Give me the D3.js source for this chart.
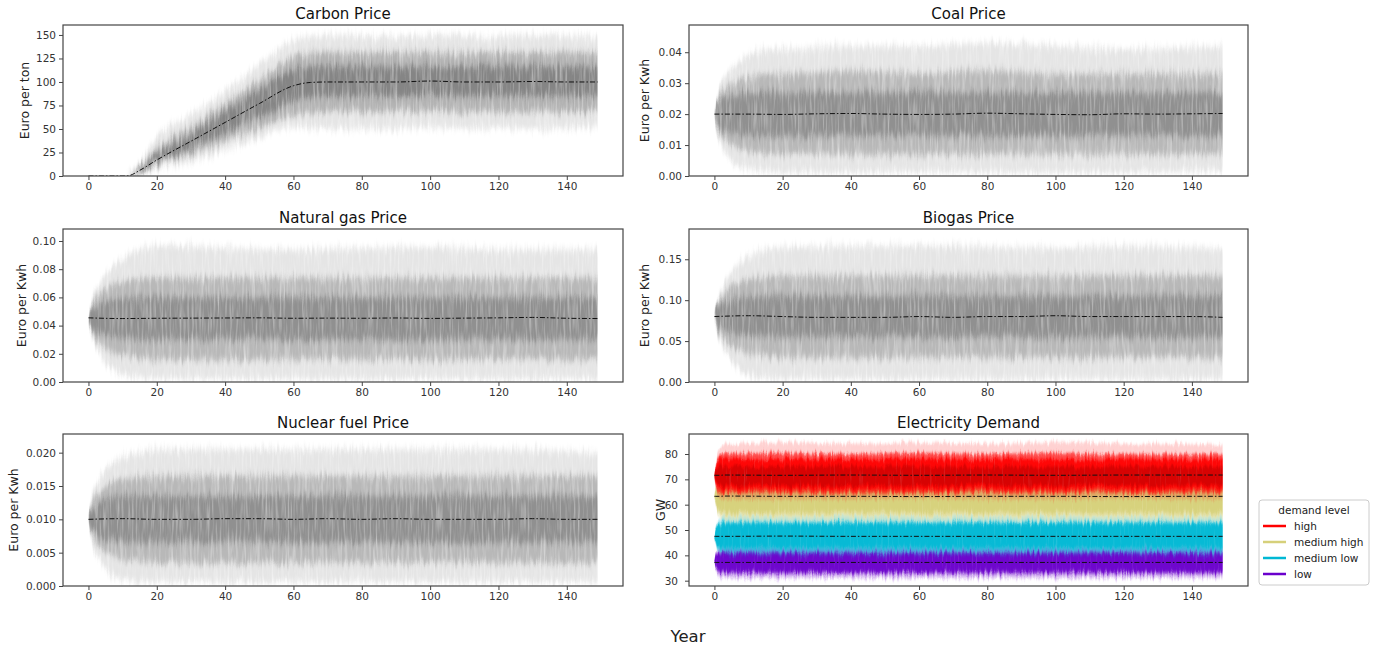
<!DOCTYPE html>
<html><head><meta charset="utf-8">
<script src="https://cdn.jsdelivr.net/npm/d3@7"></script>
<style>body{margin:0;background:#fff}svg{font-family:"DejaVu Sans",sans-serif}</style>
</head><body><svg id="c" width="1378" height="650"></svg>
<script>
// ---------- data ----------
const xTicks = [0,20,40,60,80,100,120,140];
const xDomain = [-7.45,156.45];

const envYears  = [0,0.4,1,2,3,5,7,10,15,20,40,60,80,100,120,149];
const meanYears = [0,10,20,30,40,50,60,70,80,90,100,110,120,130,140,149];

// Carbon price (Euro per ton)
const carbonYears = [0,11,12,15,20,30,40,50,60,65,70,80,90,100,110,120,130,140,149];
const carbonMean  = [0,0,0.5,6,17,37,57,77,96,99.5,100,100,100,101,100,100,100.5,100,100];
const carbonOuter = [[0,0],[0,0],[0,1.5],[2,14],[7,42],[15,65],[28,90],[40,118],[52,145],[51,148],[50,150],[51,149],[50,148],[52,150],[50,149],[51,148],[50,150],[51,149],[52,147]];
const carbonMid   = [[0,0],[0,0],[0,1],[3,10],[11,30],[23,52],[37,77],[51,102],[65,127],[67,131],[68,132],[68,131],[68,132],[69,132],[68,131],[68,132],[68,131],[68,132],[69,131]];
const carbonCore  = [[0,0],[0,0],[0.2,0.8],[4,8],[14,23],[29,45],[46,69],[63,92],[80,113],[84,116],[85,116],[85,117],[85,116],[86,117],[85,116],[85,117],[85,116],[85,116],[86,116]];
const carbonYTicks = [0,25,50,75,100,125,150];

// Coal price (Euro per Kwh)
const coalMean  = [0.0200,0.0200,0.0199,0.0201,0.0202,0.0200,0.0199,0.0200,0.0203,0.0201,0.0199,0.0198,0.0201,0.0200,0.0201,0.0202];
const coalOuter = [[0.020,0.020],[0.016,0.024],[0.013,0.027],[0.010,0.030],[0.008,0.032],[0.005,0.035],[0.003,0.037],[0.002,0.039],[0.0012,0.041],[0.001,0.041],[0.001,0.042],[0.0012,0.042],[0.001,0.043],[0.001,0.042],[0.001,0.041],[0.0015,0.042]];
const coalMid   = [[0.020,0.020],[0.017,0.023],[0.015,0.025],[0.013,0.027],[0.012,0.028],[0.010,0.030],[0.009,0.031],[0.008,0.032],[0.007,0.033],[0.007,0.033],[0.007,0.034],[0.007,0.033],[0.007,0.034],[0.007,0.033],[0.007,0.033],[0.007,0.033]];
const coalCore  = [[0.020,0.020],[0.0175,0.0225],[0.016,0.024],[0.015,0.025],[0.0145,0.0255],[0.014,0.026],[0.0135,0.0265],[0.013,0.027],[0.013,0.027],[0.013,0.027],[0.013,0.027],[0.013,0.027],[0.013,0.027],[0.013,0.027],[0.013,0.027],[0.013,0.027]];
const coalYTicks = [0,0.01,0.02,0.03,0.04];

// Natural gas price
const gasMean  = [0.0455,0.0450,0.0452,0.0453,0.0454,0.0455,0.0452,0.0453,0.0452,0.0454,0.0451,0.0453,0.0455,0.0458,0.0452,0.0450];
const gasOuter = [[0.045,0.045],[0.038,0.052],[0.032,0.058],[0.026,0.064],[0.021,0.069],[0.014,0.076],[0.009,0.082],[0.005,0.088],[0.003,0.094],[0.002,0.097],[0.002,0.095],[0.002,0.094],[0.002,0.095],[0.002,0.096],[0.002,0.094],[0.002,0.094]];
const gasMid   = [[0.045,0.045],[0.039,0.051],[0.035,0.055],[0.031,0.059],[0.028,0.062],[0.024,0.066],[0.021,0.069],[0.019,0.071],[0.017,0.073],[0.016,0.074],[0.016,0.074],[0.016,0.074],[0.016,0.074],[0.016,0.074],[0.016,0.074],[0.016,0.074]];
const gasCore  = [[0.045,0.045],[0.040,0.050],[0.038,0.052],[0.036,0.054],[0.035,0.055],[0.033,0.057],[0.032,0.058],[0.031,0.059],[0.030,0.060],[0.030,0.060],[0.030,0.060],[0.030,0.060],[0.030,0.060],[0.030,0.060],[0.030,0.060],[0.030,0.060]];
const gasYTicks = [0,0.02,0.04,0.06,0.08,0.10];

// Biogas price
const bioMean  = [0.080,0.081,0.080,0.079,0.079,0.079,0.080,0.079,0.080,0.080,0.081,0.080,0.080,0.080,0.080,0.079];
const bioOuter = [[0.080,0.080],[0.068,0.092],[0.058,0.102],[0.047,0.113],[0.038,0.122],[0.026,0.134],[0.016,0.145],[0.008,0.154],[0.004,0.162],[0.003,0.165],[0.003,0.166],[0.003,0.167],[0.003,0.165],[0.003,0.164],[0.003,0.166],[0.003,0.163]];
const bioMid   = [[0.080,0.080],[0.070,0.090],[0.063,0.097],[0.056,0.104],[0.051,0.109],[0.044,0.116],[0.039,0.121],[0.035,0.125],[0.032,0.128],[0.030,0.130],[0.030,0.130],[0.030,0.130],[0.030,0.130],[0.030,0.130],[0.030,0.130],[0.030,0.130]];
const bioCore  = [[0.080,0.080],[0.072,0.088],[0.068,0.092],[0.065,0.095],[0.063,0.097],[0.060,0.100],[0.058,0.102],[0.056,0.104],[0.055,0.105],[0.055,0.105],[0.055,0.105],[0.055,0.105],[0.055,0.105],[0.055,0.105],[0.055,0.105],[0.055,0.105]];
const bioYTicks = [0,0.05,0.10,0.15];

// Nuclear fuel price
const nucMean  = [0.0100,0.0101,0.0100,0.0100,0.0101,0.0101,0.0100,0.0101,0.0100,0.0101,0.0100,0.0100,0.0100,0.0101,0.0100,0.0100];
const nucOuter = [[0.010,0.010],[0.008,0.012],[0.0065,0.0135],[0.005,0.015],[0.004,0.016],[0.0025,0.0175],[0.0015,0.0185],[0.001,0.0195],[0.0007,0.020],[0.0006,0.0205],[0.0006,0.0205],[0.0006,0.0205],[0.0006,0.0205],[0.0006,0.0205],[0.0006,0.0205],[0.0006,0.020]];
const nucMid   = [[0.010,0.010],[0.0085,0.0115],[0.0075,0.0125],[0.0065,0.0135],[0.006,0.014],[0.005,0.015],[0.0045,0.0155],[0.004,0.016],[0.0037,0.0163],[0.0035,0.0165],[0.0035,0.0165],[0.0035,0.0165],[0.0035,0.0165],[0.0035,0.0165],[0.0035,0.0165],[0.0035,0.0165]];
const nucCore  = [[0.010,0.010],[0.009,0.011],[0.0083,0.0117],[0.008,0.012],[0.0075,0.0125],[0.007,0.013],[0.0067,0.0133],[0.0065,0.0135],[0.0065,0.0135],[0.0065,0.0135],[0.0065,0.0135],[0.0065,0.0135],[0.0065,0.0135],[0.0065,0.0135],[0.0065,0.0135],[0.0065,0.0135]];
const nucYTicks = [0,0.005,0.010,0.015,0.020];

// Electricity demand (GW)
const elecYears = [0,0.4,1.5,3,20,40,60,80,100,120,140,149];
const demandLevels = ["high","medium high","medium low","low"];
const demandColors = ["#ff0000","#d6d07a","#00b8d4","#6a00cc"];
const elecHighMean = [71.6,71.6,71.6,71.7,71.6,71.7,71.6,71.7,71.6,71.7,71.7,71.7];
const elecHighOuter = [[71.5,71.5],[66,77],[62.5,82],[62,84],[62,84.5],[62,84],[62.5,84.5],[62,84],[62,84.5],[62.5,84],[62,84],[62,83.5]];
const elecHighMid   = [[71.5,71.5],[67,76],[64.5,79],[64.5,80],[64.5,80.5],[64.5,80],[64.5,80.5],[64.5,80],[64.5,80.5],[64.5,80],[64.5,80],[64.5,80]];
const elecHighCore  = [[71.5,71.5],[68,75],[66.5,77.5],[66,78],[66,78],[66,78],[66,78],[66,78],[66,78],[66,78],[66,78],[66,78]];
const elecHighDark  = [[71.5,71.5],[69,74],[68,75],[67.5,75],[67.5,75],[67.5,75],[67.5,75],[67.5,75],[67.5,75],[67.5,75],[67.5,75],[67.5,75]];
const elecMedHighMean = [63.3,63.3,63.3,63.4,63.3,63.3,63.2,63.3,63.3,63.2,63.3,63.3];
const elecMedHighOuter = [[63.3,63.3],[59.5,67],[55,68],[53.5,68.5],[53.5,68.5],[53.5,68.5],[53.5,68.5],[53.5,68.5],[53.5,68.5],[53.5,68.5],[53.5,68.5],[53.5,68.5]];
const elecMedHighMid   = [[63.3,63.3],[60,66.5],[56.5,67],[55.5,67],[55.5,67],[55.5,67],[55.5,67],[55.5,67],[55.5,67],[55.5,67],[55.5,67],[55.5,67]];
const elecMedHighCore  = [[63.3,63.3],[61,65.5],[58,66],[57,66],[57,66],[57,66],[57,66],[57,66],[57,66],[57,66],[57,66],[57,66]];
const elecMedLowMean = [47.5,47.5,47.5,47.5,47.6,47.5,47.5,47.5,47.5,47.5,47.5,47.5];
const elecMedLowOuter = [[47.5,47.5],[44,51],[40.5,54.5],[40,55.5],[40,55.5],[40,55.5],[40,55.5],[40,55.5],[40,55.5],[40,55.5],[40,55.5],[40,55.5]];
const elecMedLowMid   = [[47.5,47.5],[44.5,50.5],[42,53],[41.5,53.5],[41.5,53.5],[41.5,53.5],[41.5,53.5],[41.5,53.5],[41.5,53.5],[41.5,53.5],[41.5,53.5],[41.5,53.5]];
const elecMedLowCore  = [[47.5,47.5],[45,50],[43.5,52],[43,52.5],[43,52.5],[43,52.5],[43,52.5],[43,52.5],[43,52.5],[43,52.5],[43,52.5],[43,52.5]];
const elecLowMean = [37.2,37.2,37.2,37.2,37.2,37.2,37.2,37.2,37.2,37.2,37.2,37.2];
const elecLowOuter = [[37.2,37.2],[34,40.5],[31.5,43],[31,43.5],[31,43.5],[31,43.5],[31,43.5],[31,43.5],[31,43.5],[31,43.5],[31,43.5],[31,43.5]];
const elecLowMid   = [[37.2,37.2],[34.5,40],[33,41.5],[32.5,42],[32.5,42],[32.5,42],[32.5,42],[32.5,42],[32.5,42],[32.5,42],[32.5,42],[32.5,42]];
const elecLowCore  = [[37.2,37.2],[35,39.5],[34,40.5],[33.5,41],[33.5,41],[33.5,41],[33.5,41],[33.5,41],[33.5,41],[33.5,41],[33.5,41],[33.5,41]];
const elecYTicks = [30,40,50,60,70,80];

// ---------- drawing ----------
const svg = d3.select("#c");
const defs = svg.append("defs");
function makeFilter(id, blurY, scale, maskGain, maskOff){
  const f = defs.append("filter").attr("id",id)
    .attr("x","-3%").attr("y","-20%").attr("width","106%").attr("height","140%");
  f.append("feGaussianBlur").attr("in","SourceGraphic").attr("stdDeviation",`0.3 ${blurY}`).attr("result","blur");
  f.append("feTurbulence").attr("type","fractalNoise").attr("baseFrequency","0.4 0.04")
    .attr("numOctaves",2).attr("seed",7).attr("result","noise");
  f.append("feColorMatrix").attr("in","noise").attr("type","matrix")
    .attr("values","0 0 0 0 0.5  0 1 0 0 0  0 0 1 0 0  0 0 0 0 1").attr("result","nm");
  f.append("feDisplacementMap").attr("in","blur").attr("in2","nm").attr("scale",scale)
    .attr("xChannelSelector","R").attr("yChannelSelector","G").attr("result","disp");
  f.append("feTurbulence").attr("type","fractalNoise").attr("baseFrequency","0.5 0.03")
    .attr("numOctaves",2).attr("seed",3).attr("result","noise2");
  f.append("feColorMatrix").attr("in","noise2").attr("type","matrix")
    .attr("values",`0 0 0 0 0  0 0 0 0 0  0 0 0 0 0  ${maskGain} 0 0 0 ${maskOff}`).attr("result","mask");
  f.append("feComposite").attr("in","disp").attr("in2","mask").attr("operator","in");
}
makeFilter("streak", 3, 14, 0.9, 0.5);
makeFilter("streakE", 1.5, 10, 0.5, 0.8);

const gray = "#000";
const panels = [
  {title:"Carbon Price", ylab:"Euro per ton", box:[63,25,623,176], yd:[0,160.6], yt:carbonYTicks, fmt:d3.format("d"), ylx:25,
   years:carbonYears, meanYears:carbonYears, mean:carbonMean,
   bands:[{d:carbonOuter,c:gray,o:0.1},{d:carbonMid,c:gray,o:0.22},{d:carbonCore,c:gray,o:0.26}]},
  {title:"Coal Price", ylab:"Euro per Kwh", box:[689,25,1248,176], yd:[0,0.0488], yt:coalYTicks, fmt:d3.format(".2f"), ylx:645,
   years:envYears, meanYears:meanYears, mean:coalMean,
   bands:[{d:coalOuter,c:gray,o:0.1},{d:coalMid,c:gray,o:0.2},{d:coalCore,c:gray,o:0.22}]},
  {title:"Natural gas Price", ylab:"Euro per Kwh", box:[63,229,623,382], yd:[0,0.1085], yt:gasYTicks, fmt:d3.format(".2f"), ylx:22,
   years:envYears, meanYears:meanYears, mean:gasMean,
   bands:[{d:gasOuter,c:gray,o:0.1},{d:gasMid,c:gray,o:0.2},{d:gasCore,c:gray,o:0.22}]},
  {title:"Biogas Price", ylab:"Euro per Kwh", box:[689,229,1248,382], yd:[0,0.187], yt:bioYTicks, fmt:d3.format(".2f"), ylx:645,
   years:envYears, meanYears:meanYears, mean:bioMean,
   bands:[{d:bioOuter,c:gray,o:0.1},{d:bioMid,c:gray,o:0.2},{d:bioCore,c:gray,o:0.22}]},
  {title:"Nuclear fuel Price", ylab:"Euro per Kwh", box:[63,434,623,586], yd:[0,0.0228], yt:nucYTicks, fmt:d3.format(".3f"), ylx:14,
   years:envYears, meanYears:meanYears, mean:nucMean,
   bands:[{d:nucOuter,c:gray,o:0.1},{d:nucMid,c:gray,o:0.2},{d:nucCore,c:gray,o:0.22}]},
  {title:"Electricity Demand", ylab:"GW", box:[689,434,1248,586], yd:[27.9,87.9], yt:elecYTicks, fmt:d3.format("d"), ylx:661, filter:"streakE", pad:7,
   years:elecYears, meanYears:elecYears, multi:[
     {mean:elecLowMean, bands:[{d:elecLowOuter,c:demandColors[3],o:0.25},{d:elecLowMid,c:demandColors[3],o:0.6},{d:elecLowCore,c:demandColors[3],o:0.9}]},
     {mean:elecMedLowMean, bands:[{d:elecMedLowOuter,c:demandColors[2],o:0.25},{d:elecMedLowMid,c:demandColors[2],o:0.6},{d:elecMedLowCore,c:demandColors[2],o:0.9}]},
     {mean:elecMedHighMean, bands:[{d:elecMedHighOuter,c:demandColors[1],o:0.3},{d:elecMedHighMid,c:demandColors[1],o:0.6},{d:elecMedHighCore,c:demandColors[1],o:0.9}]},
     {mean:elecHighMean, bands:[{d:elecHighOuter,c:demandColors[0],o:0.18},{d:elecHighMid,c:demandColors[0],o:0.65},{d:elecHighCore,c:demandColors[0],o:0.9},{d:elecHighDark,c:"#b00000",o:0.5}]}
   ]}
];

panels.forEach((p,pi)=>{
  const [x0,y0,x1,y1] = p.box;
  const x = d3.scaleLinear().domain(xDomain).range([x0,x1]);
  const y = d3.scaleLinear().domain(p.yd).range([y1,y0]);
  defs.append("clipPath").attr("id","clip"+pi).append("rect")
    .attr("x",x0).attr("y",y0).attr("width",x1-x0).attr("height",y1-y0);
  const g = svg.append("g").attr("clip-path",`url(#clip${pi})`);
  const area = d3.area().x((d,i)=>x(p.years[i])).y0(d=>y(d[0])).y1(d=>y(d[1])).curve(d3.curveMonotoneX);
  const line = d3.line().x((d,i)=>x(p.meanYears[i])).y(d=>y(d)).curve(d3.curveMonotoneX);
  const groups = p.multi ? p.multi : [{mean:p.mean, bands:p.bands}];
  groups.forEach(s=>{
    const gb = g.append("g").attr("filter",`url(#${p.filter||"streak"})`);
    s.bands.forEach(b=>{
      gb.append("path").attr("d",area(b.d)).attr("fill",b.c).attr("fill-opacity",b.o);
    });
  });
  groups.forEach(s=>{
    g.append("path").attr("d",line(s.mean)).attr("fill","none").attr("stroke","#111")
      .attr("stroke-width",1).attr("stroke-dasharray","5,2,1.5,2");
  });
  svg.append("rect").attr("x",x0).attr("y",y0).attr("width",x1-x0).attr("height",y1-y0)
    .attr("fill","none").attr("stroke","#444").attr("stroke-width",1.2);
  const ax = svg.append("g").attr("transform",`translate(0,${y1})`)
    .call(d3.axisBottom(x).tickValues(xTicks).tickSize(4).tickPadding(3).tickFormat(d3.format("d")));
  const ay = svg.append("g").attr("transform",`translate(${x0},0)`)
    .call(d3.axisLeft(y).tickValues(p.yt).tickSize(4).tickPadding(p.pad||3).tickFormat(p.fmt));
  [ax,ay].forEach(a=>{
    a.select(".domain").remove();
    a.selectAll("line").attr("stroke","#444");
    a.selectAll("text").attr("fill","#333").attr("font-size",10.5).attr("font-family","DejaVu Sans");
  });
  svg.append("text").attr("x",(x0+x1)/2).attr("y",y0-6).attr("text-anchor","middle")
    .attr("font-size",15).attr("fill","#111").text(p.title);
  svg.append("text").attr("transform",`translate(${p.ylx},${(y0+y1)/2}) rotate(-90)`)
    .attr("text-anchor","middle").attr("dy","0.35em").attr("font-size",12.5).attr("fill","#222").text(p.ylab);
});

// legend
const lg = svg.append("g");
lg.append("rect").attr("x",1259).attr("y",500).attr("width",110).attr("height",85).attr("rx",3)
  .attr("fill","#fff").attr("stroke","#ccc").attr("stroke-width",1);
lg.append("text").attr("x",1314).attr("y",514).attr("text-anchor","middle").attr("font-size",10.5).attr("fill","#222").text("demand level");
demandLevels.forEach((lv,i)=>{
  const yy = 526 + i*16;
  lg.append("line").attr("x1",1263).attr("x2",1286).attr("y1",yy).attr("y2",yy)
    .attr("stroke",demandColors[i]).attr("stroke-width",2.5);
  lg.append("text").attr("x",1294).attr("y",yy).attr("dy","0.35em").attr("font-size",10.5).attr("fill","#222").text(lv);
});

svg.append("text").attr("x",688).attr("y",642).attr("text-anchor","middle").attr("font-size",16.5).attr("fill","#222").text("Year");
</script></body></html>
